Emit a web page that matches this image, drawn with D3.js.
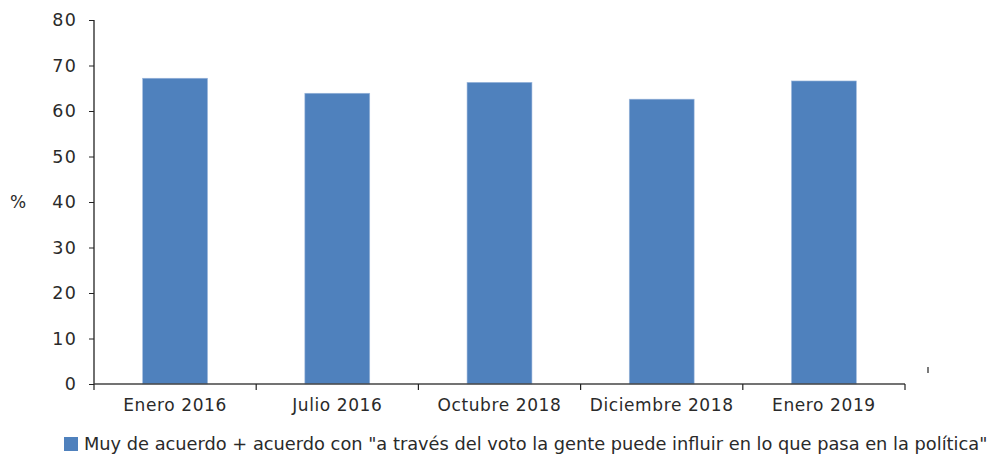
<!DOCTYPE html>
<html>
<head>
<meta charset="utf-8">
<script src="https://cdn.jsdelivr.net/npm/d3@7"></script>
<style>
  body { margin: 0; background: #fff; }
  svg { display: block; font-family: "DejaVu Sans", sans-serif; }
</style>
</head>
<body>
<svg width="988" height="454"></svg>
<script>
var categories = ['Enero 2016', 'Julio 2016', 'Octubre 2018', 'Diciembre 2018', 'Enero 2019'];
var values = [67.2, 63.9, 66.3, 62.6, 66.6];
var yTicks = [0, 10, 20, 30, 40, 50, 60, 70, 80];
var legendLabel = 'Muy de acuerdo + acuerdo con "a través del voto la gente puede influir en lo que pasa en la política"';

var svg = d3.select('svg');

var plot_left = 94, plot_right = 905, plot_top = 20, plot_bottom = 384;
var bar_color = '#4F81BD';
var text_color = '#2a2a2a';
var font = '"DejaVu Sans", sans-serif';

var x = d3.scaleBand()
  .domain(categories)
  .range([plot_left, plot_right])
  .padding(0);

var y = d3.scaleLinear()
  .domain([0, 80])
  .range([plot_bottom, plot_top]);

var bar_w = x.bandwidth() * 0.4;

// bars
svg.selectAll('.bar')
  .data(values)
  .enter()
  .append('rect')
  .attr('class', 'bar')
  .attr('x', function(d, i) { return x(categories[i]) + (x.bandwidth() - bar_w) / 2; })
  .attr('y', function(d) { return y(d); })
  .attr('width', bar_w)
  .attr('height', function(d) { return y(0) - y(d); })
  .attr('fill', bar_color)
  .attr('stroke', '#9db8dc')
  .attr('stroke-width', 0.6);

// y axis
var yAxis = svg.append('g')
  .attr('transform', 'translate(' + plot_left + ',0)')
  .call(d3.axisLeft(y).tickValues(yTicks).tickSize(5).tickPadding(11.5))
  .attr('font-family', font)
  .attr('font-size', 17.5);
yAxis.select('.domain').attr('stroke', '#222').attr('stroke-width', 1.3).attr('d', 'M0,' + plot_top + 'V' + plot_bottom);
yAxis.selectAll('.tick line').attr('stroke', '#222');
yAxis.selectAll('.tick text').attr('fill', text_color).attr('letter-spacing', 1.5);

// x axis, ticks on the band boundaries
var xAxis = svg.append('g')
  .attr('transform', 'translate(0,' + plot_bottom + ')')
  .call(d3.axisBottom(x).tickSize(0).tickPadding(15))
  .attr('font-family', font)
  .attr('font-size', 17);
xAxis.select('.domain').attr('stroke', '#444').attr('stroke-width', 1.5).attr('d', 'M' + plot_left + ',0H' + plot_right);
xAxis.selectAll('.tick text').attr('fill', text_color).attr('letter-spacing', 0.6);

var bounds = categories.map(function(c) { return x(c); }).concat([plot_right]);
xAxis.selectAll('.bound')
  .data(bounds)
  .enter()
  .append('line')
  .attr('x1', function(d) { return d; })
  .attr('x2', function(d) { return d; })
  .attr('y1', 0)
  .attr('y2', 6)
  .attr('stroke', '#222')
  .attr('stroke-width', 1.2);

// stray mark right of the plot
svg.append('line')
  .attr('x1', 928).attr('x2', 928)
  .attr('y1', 367).attr('y2', 373)
  .attr('stroke', '#222').attr('stroke-width', 1.2);

// unit label
svg.append('text')
  .attr('x', 18)
  .attr('y', y(40) + 6)
  .attr('text-anchor', 'middle')
  .attr('fill', text_color)
  .attr('font-size', 17)
  .text('%');

// legend
var legend = svg.append('g');
legend.append('rect')
  .attr('x', 64).attr('y', 437)
  .attr('width', 14).attr('height', 14)
  .attr('fill', bar_color);
legend.append('text')
  .attr('x', 84)
  .attr('y', 450)
  .attr('fill', text_color)
  .attr('font-size', 17.8)
  .text(legendLabel);
</script>
</body>
</html>
